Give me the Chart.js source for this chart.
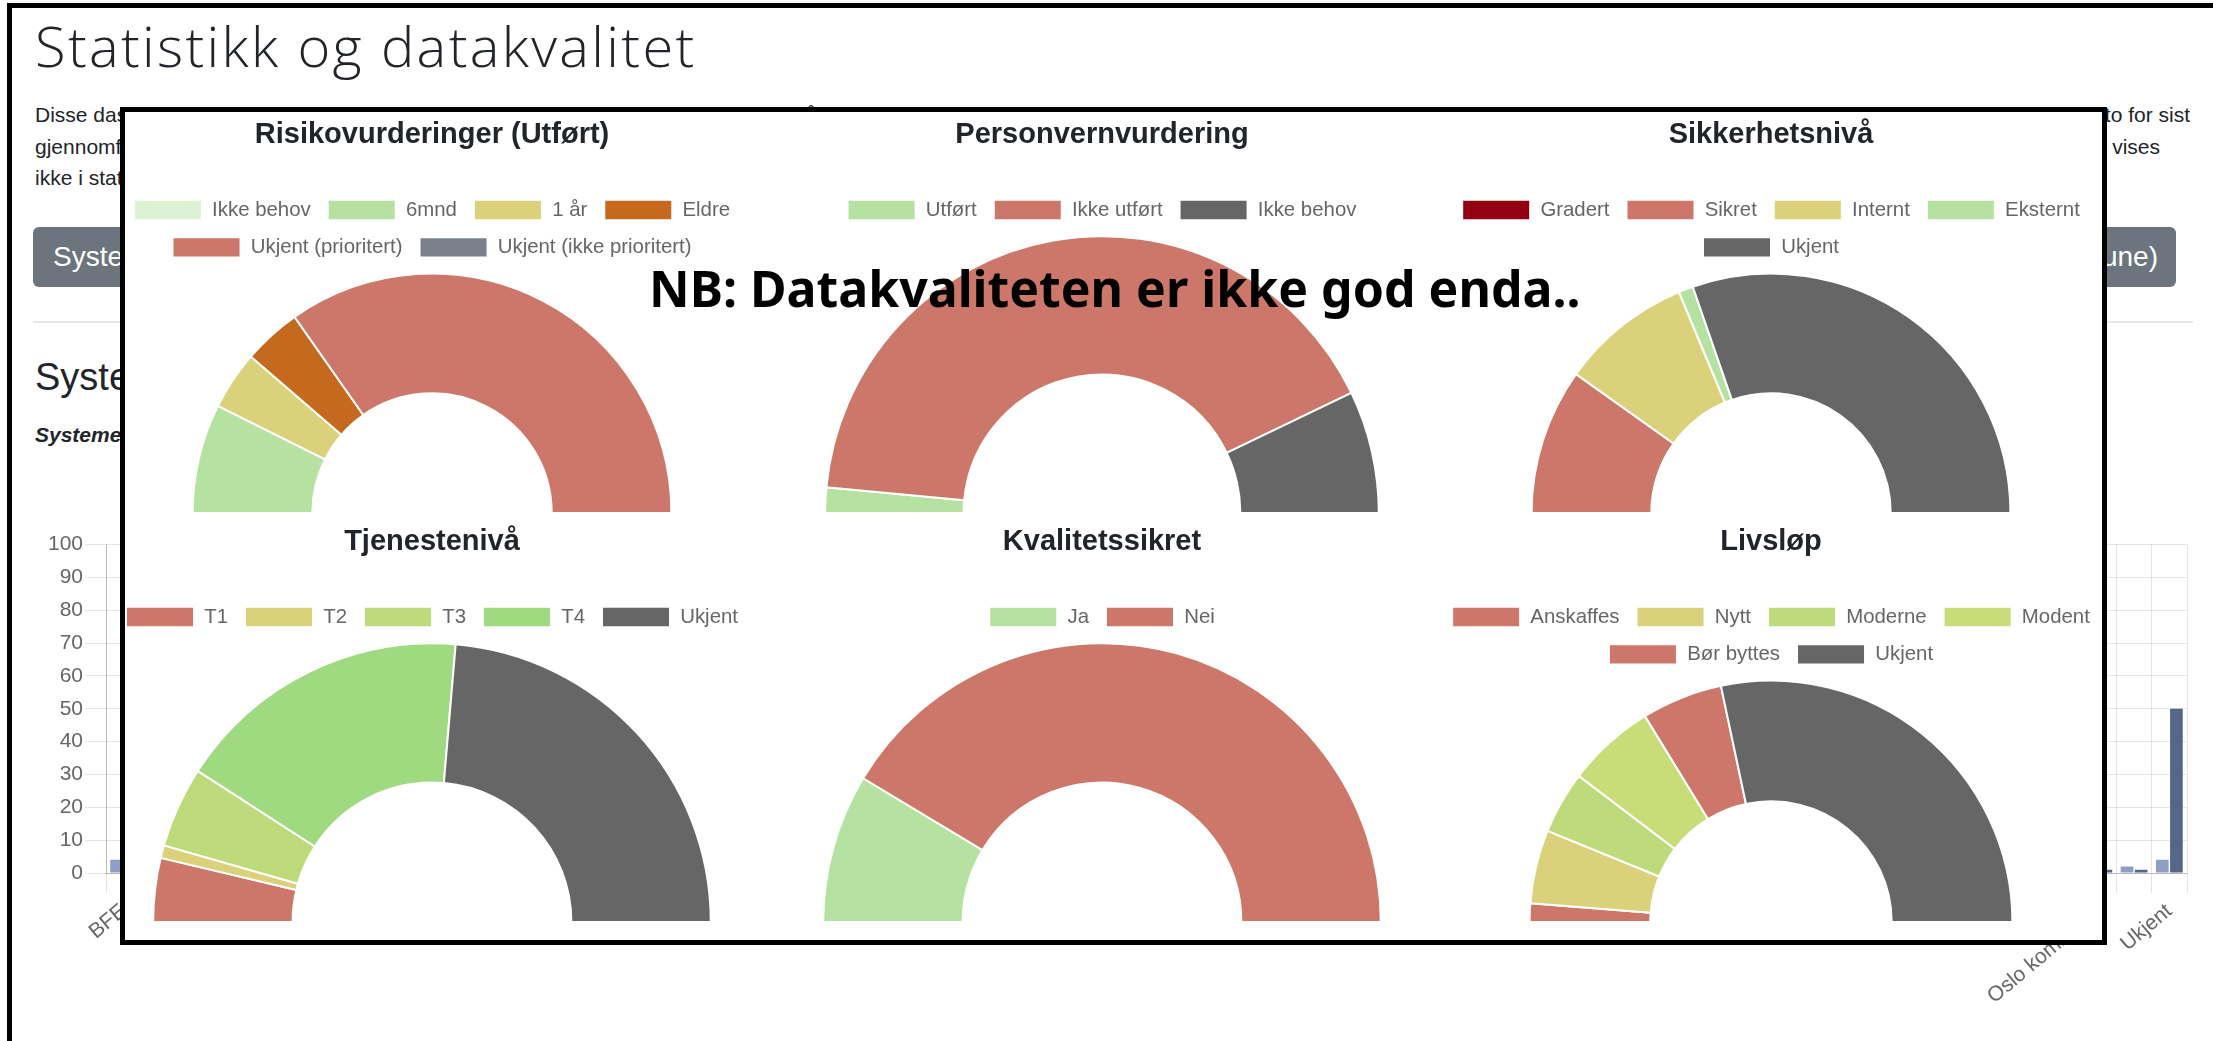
<!DOCTYPE html>
<html lang="no">
<head>
<meta charset="utf-8">
<title>Statistikk og datakvalitet</title>
<script src="https://cdn.jsdelivr.net/npm/chart.js@4.4.1/dist/chart.umd.min.js"></script>
<style>
    html, body { margin: 0; padding: 0; }
    body {
        width: 2213px; height: 1041px; overflow: hidden; position: relative;
        background: #fff; color: #212529;
        font-family: "Liberation Sans", Arial, sans-serif;
    }
    .ramme {
        position: absolute; left: 7px; top: 3px; width: 2400px; height: 1200px;
        border-left: 5px solid #000; border-top: 5px solid #000;
    }
    .abs { position: absolute; white-space: nowrap; }
    h1.abs { margin: 0; left: 35px; top: 17px; font: 300 56px/56px "Open Sans", sans-serif; letter-spacing: 2.35px; }
    .linje {
        position: absolute; height: 26px; overflow: hidden; white-space: nowrap;
        font-size: 21px; line-height: 21px; display: flex;
    }
    .linje.v { justify-content: flex-start; }
    .linje.h { justify-content: flex-end; }
    .knapp {
        position: absolute; top: 227px; height: 60px; background: #6c757d; border-radius: 6px;
        color: #fff; font-size: 28px; line-height: 60px; white-space: nowrap; overflow: hidden;
    }
    .strek { position: absolute; left: 33px; top: 321px; width: 2160px; height: 2px; background: #e6e6e6; }
    h2.abs { margin: 0; left: 35px; top: 358px; font: 400 38px/38px "Liberation Sans", Arial, sans-serif; }
    .kursiv { left: 35px; top: 424px; font: italic 600 21px/21px "Liberation Sans", Arial, sans-serif; }
    #stolpeBoks { position: absolute; left: 0; top: 530px; width: 2213px; height: 560px; }
    .overlegg {
        position: absolute; left: 120px; top: 107px; width: 1987px; height: 838px;
        box-sizing: border-box; border: 5px solid #000; background: #fff; overflow: hidden; z-index: 5;
    }
    .graf { position: absolute; width: 740px; }
    .nb {
        position: absolute; left: 649px; top: 263px; z-index: 10; white-space: nowrap;
        font: 700 50px/50px "Noto Sans", sans-serif; color: #000;
    }
</style>
</head>
<body>
<div class="ramme"></div>

<h1 class="abs">Statistikk og datakvalitet</h1>

<div class="linje v" style="left:35px; top:104px; width:1065px;">Disse dashbordene viser statistikk over systemene i Oslo kommune og kvaliteten på dataene som er registrert i systemoversikten.</div>
<div class="linje h" style="left:1100px; top:104px; width:1090px;">Tallene oppdateres fortløpende hver natt, og grafene under viser status per dato for sist</div>
<div class="linje v" style="left:35px; top:136px; width:1065px;">gjennomførte vurderinger per system. Systemer som ikke er knyttet til en virksomhet, eller som mangler</div>
<div class="linje h" style="left:1100px; top:136px; width:1060px;">informasjon om risikovurdering, personvern, sikkerhetsnivå og livsløp, vises</div>
<div class="linje v" style="left:35px; top:167px; width:1065px;">ikke i statistikken før dataene er oppdatert av systemeier.</div>

<div class="knapp" style="left:33px; width:600px; padding-left:20px; box-sizing:border-box;">Systemer per virksomhet</div>
<div class="knapp" style="left:1660px; width:516px; padding-right:18px; box-sizing:border-box; text-align:right;">Systemer (per kommune)</div>
<div class="strek"></div>

<h2 class="abs">Systemer per virksomhet</h2>
<div class="abs kursiv">Systemene er gruppert etter virksomhet som eier systemet</div>

<div id="stolpeBoks"><canvas id="grafVirksomhet"></canvas></div>

<div class="overlegg">
    <div class="graf" style="left:-63px; top:0; height:402px;"><canvas id="grafRisiko"></canvas></div>
    <div class="graf" style="left:607px; top:0; height:402px;"><canvas id="grafPersonvern"></canvas></div>
    <div class="graf" style="left:1276px; top:0; height:402px;"><canvas id="grafSikkerhet"></canvas></div>
    <div class="graf" style="left:-63px; top:407px; height:404px;"><canvas id="grafTjeneste"></canvas></div>
    <div class="graf" style="left:607px; top:407px; height:404px;"><canvas id="grafKvalitet"></canvas></div>
    <div class="graf" style="left:1276px; top:407px; height:404px;"><canvas id="grafLivslop"></canvas></div>
</div>

<div class="nb">NB: Datakvaliteten er ikke god enda..</div>

<script>
// ===== DATA: HALVSIRKLER =====
const risikoLabels = ['Ikke behov', '6mnd', '1 år', 'Eldre', 'Ukjent (prioritert)', 'Ukjent (ikke prioritert)'];
const risikoVerdier = [0, 30, 16, 16, 141, 0];

const personvernLabels = ['Utført', 'Ikke utført', 'Ikke behov'];
const personvernVerdier = [6, 168, 29];

const sikkerhetLabels = ['Gradert', 'Sikret', 'Internt', 'Eksternt', 'Ukjent'];
const sikkerhetVerdier = [0, 40, 36, 4, 123];

const tjenesteLabels = ['T1', 'T2', 'T3', 'T4', 'Ukjent'];
const tjenesteVerdier = [15, 3, 19, 70, 96];

const kvalitetLabels = ['Ja', 'Nei'];
const kvalitetVerdier = [35, 168];

const livslopLabels = ['Anskaffes', 'Nytt', 'Moderne', 'Modent', 'Bør byttes', 'Ukjent'];
const livslopVerdier = [5, 20, 17, 24, 22, 115];

// ===== DATA: STOLPER (BAKGRUNN) =====
const virksomheter = [
    'BFE', 'BGO', 'BOE', 'BRE', 'BSH', 'BYA', 'BYM', 'BYR', 'BYU', 'DEB',
    'DFE', 'DIK', 'DSK', 'EBY', 'EHE', 'ENK', 'ESV', 'FIN', 'FOA', 'GAM',
    'GRO', 'HAV', 'HEL', 'HKR', 'HMS', 'IKT', 'KEP', 'KRV', 'KUL', 'LEG',
    'MBH', 'MED', 'MOV', 'NAV', 'NBL', 'NFF', 'NRA', 'NST', 'OBF', 'OBY',
    'OKK', 'OKS', 'OPB', 'OVF', 'PBE', 'REG', 'RUT', 'SAG', 'SHS', 'SPO',
    'SYE', 'TAR', 'UDE', 'UKE', 'VAV', 'VEL', 'Oslo kommune', 'VGA', 'Ukjent'
];
const antallPrioritert = [
    4, 2, 3, 1, 5, 2, 12, 3, 2, 4,
    1, 2, 3, 6, 2, 1, 3, 8, 2, 1,
    3, 2, 9, 1, 2, 7, 1, 3, 2, 1,
    2, 4, 1, 3, 2, 1, 2, 3, 1, 2,
    5, 1, 2, 4, 6, 2, 3, 1, 2, 3,
    1, 2, 11, 5, 4, 3, 2, 2, 4
];
const antallOvrige = [
    3, 1, 2, 1, 3, 1, 9, 2, 1, 3,
    1, 1, 2, 4, 1, 1, 2, 5, 1, 1,
    2, 1, 6, 1, 1, 5, 1, 2, 1, 1,
    1, 3, 1, 2, 1, 1, 1, 2, 1, 1,
    3, 1, 1, 2, 4, 1, 2, 1, 1, 2,
    1, 1, 7, 3, 3, 2, 1, 1, 50
];
const yTicks = [0, 10, 20, 30, 40, 50, 60, 70, 80, 90, 100];

// ===== FARGER =====
const gronnLys = '#b5e2a0';
const rod = '#cd776b';
const gul = '#dbd17a';
const gra = '#666666';
const risikoFarger = ['#dcf2d3', gronnLys, gul, '#c4691d', rod, '#7b818c'];
const personvernFarger = [gronnLys, rod, gra];
const sikkerhetFarger = ['#930011', rod, gul, gronnLys, gra];
const tjenesteFarger = [rod, gul, '#bedb7b', '#a0da80', gra];
const kvalitetFarger = [gronnLys, rod];
const livslopFarger = [rod, gul, '#bddb7a', '#c8dc78', rod, gra];

document.addEventListener("DOMContentLoaded", function () {

    Chart.defaults.font.family = "'Liberation Sans', Arial, sans-serif";
    Chart.defaults.color = "#666";

    // litt luft mellom legende og halvsirkel
    const legendeLuft = {
        id: 'legendeLuft',
        beforeInit(chart) {
            const legend = chart.legend;
            if (!legend) return;
            const fit = legend.fit;
            legend.fit = function () {
                fit.call(this);
                this.height += 5;
            };
        }
    };

    function halvsirkel(id, tittel, labels, verdier, farger) {
        new Chart(document.getElementById(id), {
            type: 'doughnut',
            data: {
                labels: labels,
                datasets: [{
                    data: verdier,
                    backgroundColor: farger,
                    borderColor: '#fff',
                    borderWidth: 2
                }]
            },
            options: {
                responsive: true,
                maintainAspectRatio: false,
                animation: false,
                rotation: -90,
                circumference: 180,
                cutout: '50%',
                plugins: {
                    title: {
                        display: true,
                        text: tittel,
                        color: '#212529',
                        font: { size: 29, weight: 'bold' },
                        padding: { top: 6, bottom: 30 }
                    },
                    legend: {
                        position: 'top',
                        labels: {
                            boxWidth: 68,
                            boxHeight: 20.4,
                            padding: 17,
                            color: '#666',
                            font: { size: 20.4 }
                        }
                    },
                    tooltip: { enabled: false }
                }
            },
            plugins: [legendeLuft]
        });
    }

    // ===== STOLPEDIAGRAM I BAKGRUNNEN =====
    new Chart(document.getElementById('grafVirksomhet'), {
        type: 'bar',
        data: {
            labels: virksomheter,
            datasets: [
                { label: 'Prioritert', data: antallPrioritert, backgroundColor: '#8d9fc5' },
                { label: 'Øvrige', data: antallOvrige, backgroundColor: '#55668a' }
            ]
        },
        options: {
            responsive: true,
            maintainAspectRatio: false,
            animation: false,
            layout: { padding: { top: 14, right: 26, bottom: 0, left: 0 } },
            plugins: { legend: { display: false }, tooltip: { enabled: false } },
            scales: {
                x: {
                    grid: { color: 'rgba(0,0,0,0.1)', tickLength: 20 },
                    border: { color: 'rgba(0,0,0,0.2)' },
                    ticks: {
                        autoSkip: false,
                        minRotation: 40,
                        maxRotation: 40,
                        padding: 6,
                        font: { size: 21 },
                        // bare annenhver etikett får plass
                        callback: function (value, index) {
                            return index % 2 === 0 ? this.getLabelForValue(value) : '';
                        }
                    },
                    afterFit(scale) { scale.height = 217; }
                },
                y: {
                    min: 0,
                    max: 100,
                    afterBuildTicks(scale) { scale.ticks = yTicks.map(v => ({ value: v })); },
                    grid: { color: 'rgba(0,0,0,0.1)', tickLength: 21 },
                    border: { color: 'rgba(0,0,0,0.2)' },
                    ticks: { padding: 2, font: { size: 21 } },
                    afterFit(scale) { scale.width = 106; }
                }
            }
        }
    });

    // ===== HALVSIRKLER =====
    halvsirkel('grafRisiko', 'Risikovurderinger (Utført)', risikoLabels, risikoVerdier, risikoFarger);
    halvsirkel('grafPersonvern', 'Personvernvurdering', personvernLabels, personvernVerdier, personvernFarger);
    halvsirkel('grafSikkerhet', 'Sikkerhetsnivå', sikkerhetLabels, sikkerhetVerdier, sikkerhetFarger);
    halvsirkel('grafTjeneste', 'Tjenestenivå', tjenesteLabels, tjenesteVerdier, tjenesteFarger);
    halvsirkel('grafKvalitet', 'Kvalitetssikret', kvalitetLabels, kvalitetVerdier, kvalitetFarger);
    halvsirkel('grafLivslop', 'Livsløp', livslopLabels, livslopVerdier, livslopFarger);

});
</script>
</body>
</html>
